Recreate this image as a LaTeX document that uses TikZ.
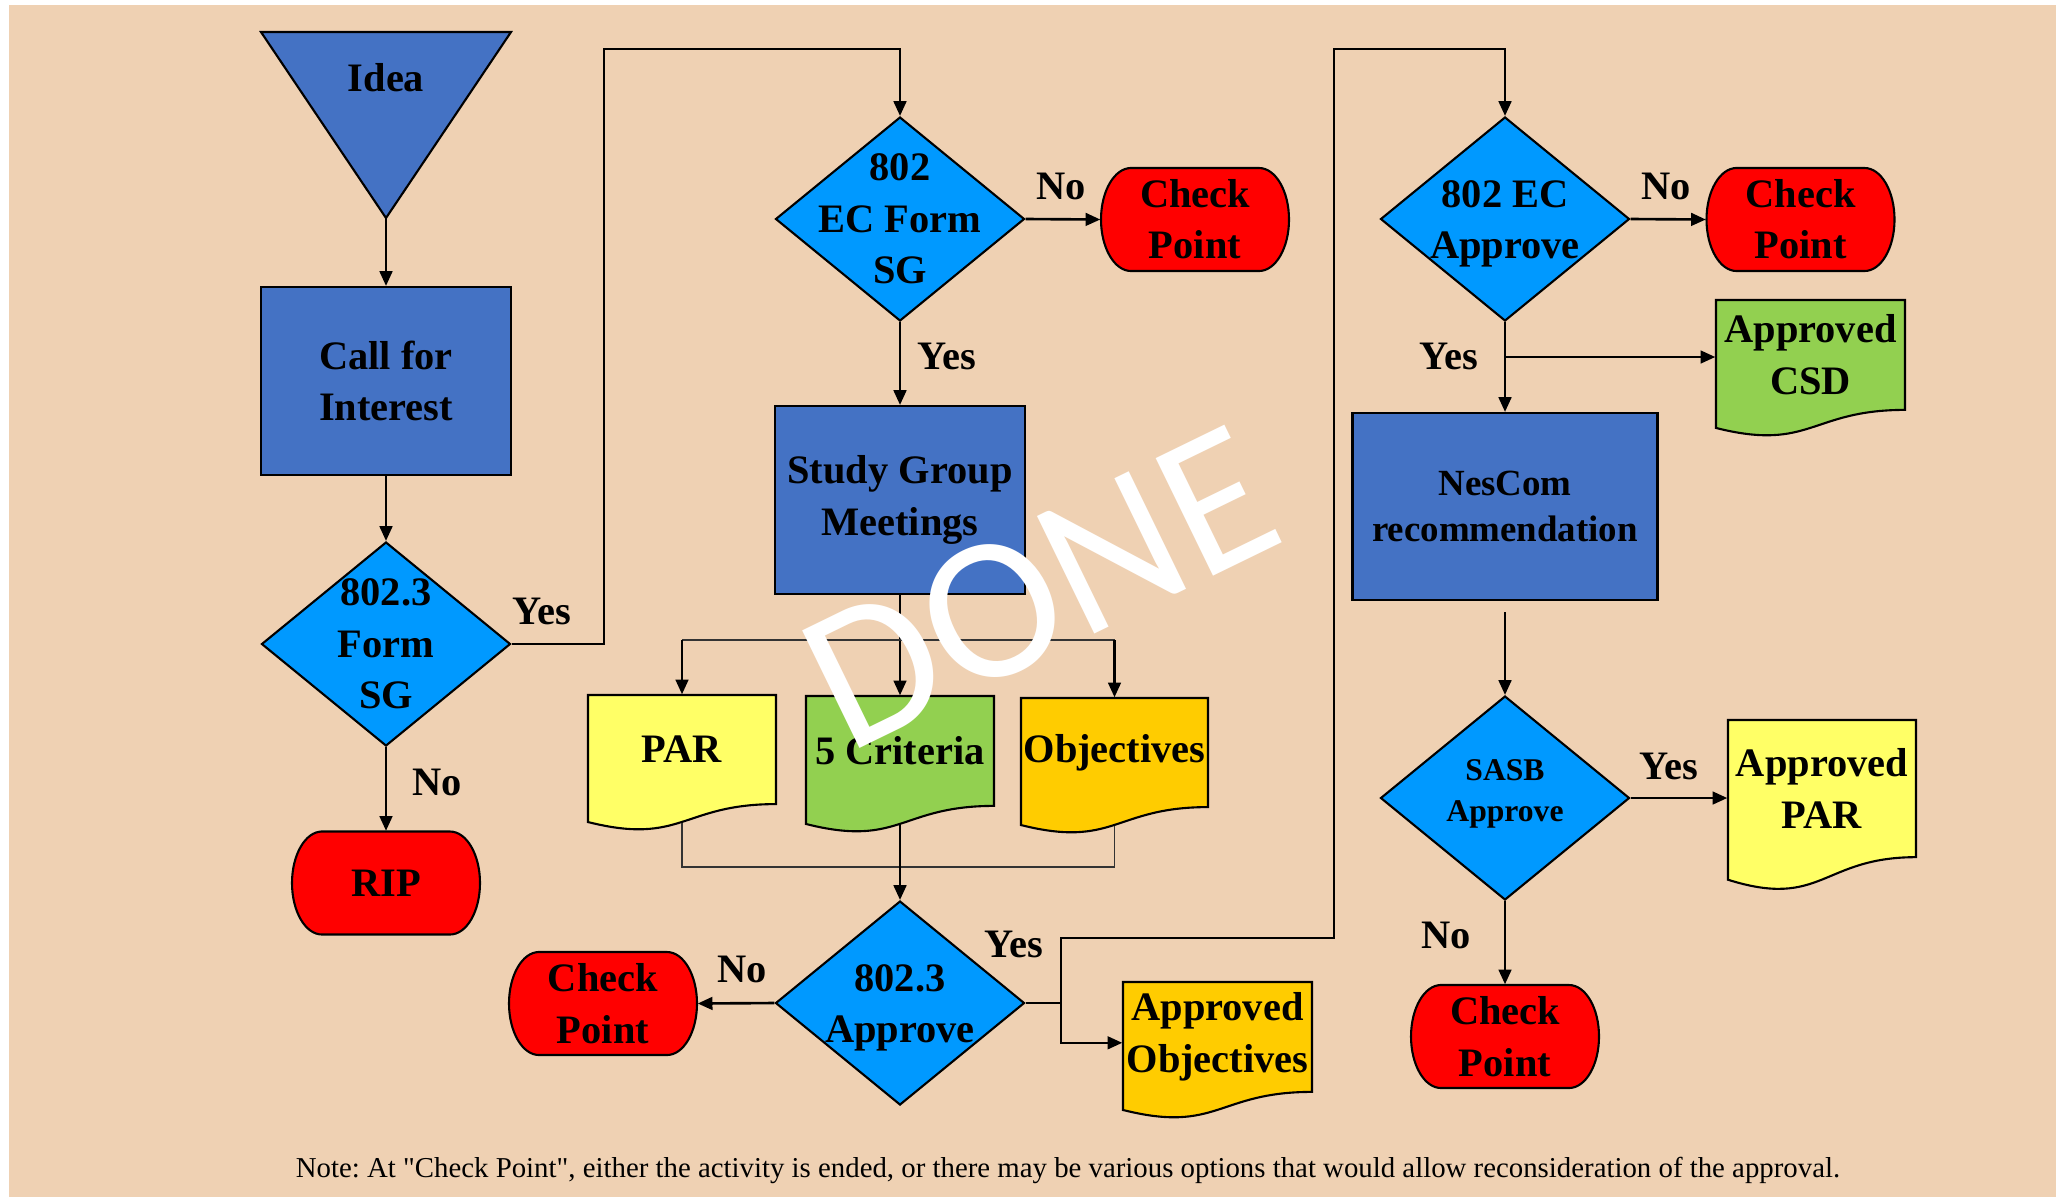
\documentclass[tikz,border=0pt]{standalone}
\usepackage{fontspec}
\setmainfont{Liberation Serif}
\newfontfamily\donefont{Carlito}
\usetikzlibrary{shapes.geometric,arrows.meta}
\frenchspacing
\definecolor{bgtan}{RGB}{239,209,179}
\definecolor{boxblue}{RGB}{68,114,196}
\definecolor{decblue}{RGB}{0,153,255}
\definecolor{docyellow}{RGB}{255,255,102}
\definecolor{docgreen}{RGB}{146,208,80}
\definecolor{docgold}{RGB}{255,204,0}
\tikzset{
  lbl/.style={font=\fontsize{11.5}{14.6}\selectfont\bfseries, align=center, inner sep=0pt},
  small/.style={font=\fontsize{9}{11.5}\selectfont\bfseries},
  blk/.style={lbl, draw, semithick, fill=boxblue, minimum width=2.5cm, minimum height=1.88cm},
  dec/.style={diamond, draw, semithick, fill=decblue, minimum width=2.49cm, minimum height=2.04cm, inner sep=0pt},
  arr/.style={line width=0.75pt, -{Triangle[length=4.2pt,width=3.6pt]}},
  wire/.style={line width=0.75pt},
  bar/.style={thin, draw=black!80}
}
% check point: flat top and bottom, elliptic ends
\newcommand{\termnode}[4]{
  \filldraw[fill=red,semithick] ({#2-0.64},{#3+0.515}) -- ({#2+0.64},{#3+0.515})
    arc[start angle=90,end angle=-90,x radius=0.3,y radius=0.515] -- ({#2-0.64},{#3-0.515})
    arc[start angle=270,end angle=90,x radius=0.3,y radius=0.515] -- cycle;
  \node[lbl,minimum width=1.88cm,minimum height=1.03cm] (#1) at (#2,#3) {#4};}
% document: name, left, top, right, height, colour, text
\newcommand{\docnode}[7]{
  \filldraw[fill=#6,semithick] (#2,#3) -- (#4,#3) -- (#4,{#3-0.802*#5})
    .. controls ({(#2+#4)/2},{#3-0.802*#5}) and ({(#2+#4)/2},{#3-1.1075*#5}) .. (#2,{#3-0.934*#5}) -- cycle;
  \node[lbl,minimum width={(#4-#2)*1cm},minimum height={0.8*#5*1cm}] (#1) at ({(#2+#4)/2},{#3-0.4*#5}) {#7};}

\begin{document}
\begin{tikzpicture}
        % background
        \useasboundingbox (0,0) rectangle (20.56,-11.97);
        \fill[white] (0,0) rectangle (20.56,-11.97);
        \fill[bgtan] (0.09,-0.05) rectangle (20.56,-11.97);

        % column 1
        \filldraw[fill=boxblue,semithick] (2.61,-0.32) -- (5.11,-0.32) -- (3.86,-2.18) -- cycle;
        \node[lbl] (idea) at (3.86,-0.78) {Idea};
        \coordinate (ideatip) at (3.86,-2.18);
        \node[blk] (call) at (3.86,-3.81) {Call for\\Interest};
        \node[dec] (sg1) at (3.86,-6.44) {};
        \node[lbl] (sg1t) at (sg1) {802.3\\Form\\SG};
        \termnode{rip}{3.86}{-8.83}{RIP}

        % column 2
        \node[dec] (ecf) at (9.00,-2.19) {};
        \node[lbl] (ecft) at (ecf) {802\\EC Form\\SG};
        \termnode{cp1}{11.95}{-2.195}{Check\\Point}
        \node[blk] (study) at (9.00,-5.00) {Study Group\\Meetings};
        \docnode{par}{5.88}{-6.95}{7.76}{1.36}{docyellow}{PAR}
        \docnode{crit}{8.06}{-6.96}{9.94}{1.37}{docgreen}{5 Criteria}
        \docnode{obj}{10.21}{-6.98}{12.08}{1.36}{docgold}{Objectives}
        \node[dec] (appr) at (9.00,-10.03) {};
        \node[lbl] (apprt) at (9.00,-10.08) {802.3\\Approve};
        \termnode{cp3}{6.03}{-10.035}{Check\\Point}
        \docnode{aobj}{11.23}{-9.82}{13.12}{1.37}{docgold}{Approved\\Objectives}

        % column 3
        \node[dec] (ecap) at (15.05,-2.19) {};
        \node[lbl] (ecapt) at (15.05,-2.24) {802 EC\\Approve};
        \termnode{cp2}{18.005}{-2.195}{Check\\Point}
        \docnode{acsd}{17.16}{-3.00}{19.05}{1.37}{docgreen}{Approved\\CSD}
        \node[blk,font=\fontsize{10.5}{13}\selectfont\bfseries,minimum width=3.05cm,minimum height=1.87cm] (nescom) at (15.05,-5.065) {NesCom\\recommendation};
        \node[dec] (sasb) at (15.05,-7.98) {};
        \node[lbl,small] (sasbt) at (15.05,-7.94) {SASB\\Approve};
        \docnode{apar}{17.28}{-7.20}{19.16}{1.71}{docyellow}{Approved\\PAR}
        \termnode{cp4}{15.05}{-10.365}{Check\\Point}

        % connectors
        \draw[arr] (ideatip) -- (call.north);
        \draw[arr] (call.south) -- (sg1.north);
        \draw[arr] (sg1.south) -- (rip.north);
        \draw[arr] (sg1.east) -| (6.04,-0.49) -| (ecf.north);
        \draw[arr] (ecf.east) -- (cp1.west);
        \draw[arr] (ecf.south) -- (study.north);
        \coordinate (fork) at (9.00,-6.40);
        \draw[arr] (study.south) -- (crit.north);
        \draw[bar] (par.north |- fork) -- (obj.north |- fork);
        \draw[arr] (par.north |- fork) -- (par.north);
        \draw[arr] (obj.north |- fork) -- (obj.north);
        \coordinate (join) at (9.00,-8.67);
        \draw[bar] ([yshift=-0.18cm]par.south) |- (join) -| ([yshift=-0.18cm]obj.south);
        \draw[arr] ([yshift=-0.18cm]crit.south) -- (appr.north);
        \draw[arr] (appr.west) -- (cp3.east);
        \coordinate (j1) at (10.61,-10.03);
        \draw[arr] (appr.east) -- (j1) |- (13.34,-9.38) -- (13.34,-0.49) -| (ecap.north);
        \draw[arr] (j1) |- ([yshift=-0.06cm]aobj.west);
        \draw[arr] (ecap.east) -- (cp2.west);
        \draw[arr] (ecap.south) -- (nescom.north);
        \coordinate (j2) at (15.05,-3.57);
        \draw[arr] (j2) -- (j2 -| acsd.west);
        \draw[arr,shorten <=0.11cm] (nescom.south) -- (sasb.north);
        \draw[arr] (sasb.east) -- (sasb.east -| apar.west);
        \draw[arr] (sasb.south) -- (cp4.north);

        % yes / no
        \node[lbl] (y1) at (5.42,-6.11) {Yes};
        \node[lbl] (n1) at (4.37,-7.82) {No};
        \node[lbl] (n2) at (10.61,-1.86) {No};
        \node[lbl] (y2) at (9.47,-3.56) {Yes};
        \node[lbl] (n3) at (7.42,-9.69) {No};
        \node[lbl] (y3) at (10.14,-9.44) {Yes};
        \node[lbl] (n4) at (16.66,-1.86) {No};
        \node[lbl] (y4) at (14.49,-3.56) {Yes};
        \node[lbl] (y5) at (16.69,-7.66) {Yes};
        \node[lbl] (n5) at (14.46,-9.35) {No};

        % note and stamp
        \node[font=\fontsize{8.2}{10}\selectfont] (note) at (10.68,-11.70) {Note: At \textquotedbl Check Point\textquotedbl, either the activity is ended, or there may be various options that would allow reconsideration of the approval.};
        \node[white,rotate=26,font=\donefont\fontsize{58}{58}\selectfont] (done) at (10.40,-5.88) {DONE};
\end{tikzpicture}
\end{document}
